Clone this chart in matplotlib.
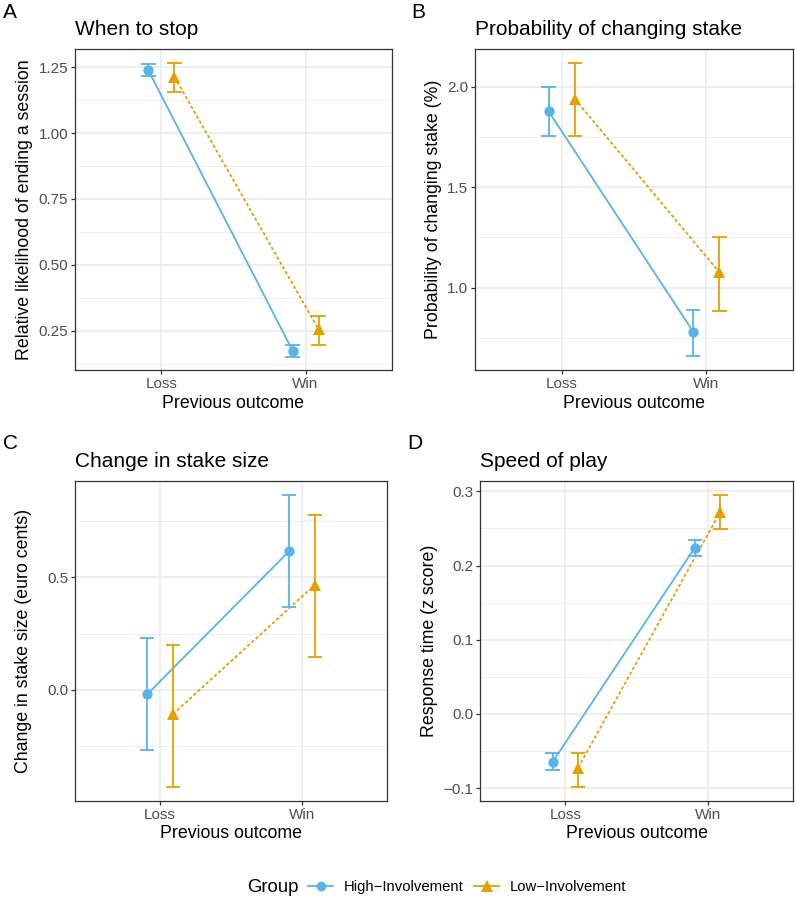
import matplotlib
matplotlib.use("Agg")
import matplotlib.pyplot as plt
from matplotlib.lines import Line2D

plt.rcParams["font.family"] = ["Liberation Sans", "DejaVu Sans"]

W, H = 795, 899

outcomes = ["Loss", "Win"]
groups = ["High\u2212Involvement", "Low\u2212Involvement"]
colors = ["#56B4E9", "#E69F00"]

# panel A: when to stop
stop_high = [1.237, 0.175]
stop_high_lo = [1.217, 0.152]
stop_high_hi = [1.261, 0.198]
stop_low = [1.213, 0.256]
stop_low_lo = [1.156, 0.197]
stop_low_hi = [1.266, 0.306]

# panel B: probability of changing stake
prob_high = [1.877, 0.780]
prob_high_lo = [1.755, 0.660]
prob_high_hi = [2.000, 0.891]
prob_low = [1.940, 1.077]
prob_low_lo = [1.755, 0.885]
prob_low_hi = [2.118, 1.250]

# panel C: change in stake size
size_high = [-0.019, 0.617]
size_high_lo = [-0.269, 0.367]
size_high_hi = [0.231, 0.865]
size_low = [-0.108, 0.466]
size_low_lo = [-0.430, 0.148]
size_low_hi = [0.198, 0.778]

# panel D: speed of play
speed_high = [-0.065, 0.2242]
speed_high_lo = [-0.0762, 0.213]
speed_high_hi = [-0.0534, 0.235]
speed_low = [-0.0726, 0.2726]
speed_low_lo = [-0.0982, 0.2498]
speed_low_hi = [-0.0525, 0.295]

panels = [
    dict(tag="A", title="When to stop", ylabel="Relative likelihood of ending a session",
         box=(75, 49, 392, 370), ylim=(0.1015, 1.3185), yticks=[0.25, 0.5, 0.75, 1.0, 1.25],
         fmt="%.2f", ylab_x=25, tag_xy=(3, 18), title_y=35,
         series=[(stop_high, stop_high_lo, stop_high_hi), (stop_low, stop_low_lo, stop_low_hi)]),
    dict(tag="B", title="Probability of changing stake", ylabel="Probability of changing stake (%)",
         box=(475, 49, 793, 370), ylim=(0.59, 2.188), yticks=[1.0, 1.5, 2.0],
         fmt="%.1f", ylab_x=433, tag_xy=(411, 18), title_y=35,
         series=[(prob_high, prob_high_lo, prob_high_hi), (prob_low, prob_low_lo, prob_low_hi)]),
    dict(tag="C", title="Change in stake size", ylabel="Change in stake size (euro cents)",
         box=(75, 481, 387, 801), ylim=(-0.494, 0.929), yticks=[0.0, 0.5],
         fmt="%.1f", ylab_x=24, tag_xy=(3, 449), title_y=467,
         series=[(size_high, size_high_lo, size_high_hi), (size_low, size_low_lo, size_low_hi)]),
    dict(tag="D", title="Speed of play", ylabel="Response time (z score)",
         box=(480, 481, 793, 801), ylim=(-0.1175, 0.314), yticks=[-0.1, 0.0, 0.1, 0.2, 0.3],
         fmt="%.1f", ylab_x=429, tag_xy=(407, 449), title_y=467,
         series=[(speed_high, speed_high_lo, speed_high_hi), (speed_low, speed_low_lo, speed_low_hi)]),
]

dodge = [-0.09, 0.09]
cap = 0.05
styles = ["-", (0, (1.8, 1.3))]
markers = ["o", "^"]
msizes = [7.4, 9.0]

fig = plt.figure(figsize=(W / 100, H / 100), dpi=100)

for p in panels:
    l, t, r, b = p["box"]
    ax = fig.add_axes([l / W, 1 - b / H, (r - l) / W, (b - t) / H])
    ax.set_xlim(0.4, 2.6)
    ax.set_ylim(*p["ylim"])

    # grid like theme_bw
    yt = p["yticks"]
    step = yt[1] - yt[0]
    minors = [v + step / 2 for v in [yt[0] - step] + yt]
    minors = [m for m in minors if p["ylim"][0] < m < p["ylim"][1]]
    for m in minors:
        ax.axhline(m, color="#EBEBEB", lw=0.6, zorder=0)
    for v in yt:
        ax.axhline(v, color="#EBEBEB", lw=1.2, zorder=0)
    for xv in [1, 2]:
        ax.axvline(xv, color="#EBEBEB", lw=1.2, zorder=0)

    for i, (mean, lo, hi) in enumerate(p["series"]):
        xs = [1 + dodge[i], 2 + dodge[i]]
        ax.plot(xs, mean, color=colors[i], lw=1.3, ls=styles[i], zorder=2)
        ax.vlines(xs, lo, hi, color=colors[i], lw=1.3, zorder=3)
        ax.hlines(lo, [x - cap for x in xs], [x + cap for x in xs], color=colors[i], lw=1.3, zorder=3)
        ax.hlines(hi, [x - cap for x in xs], [x + cap for x in xs], color=colors[i], lw=1.3, zorder=3)
        ax.plot(xs, mean, ls="none", marker=markers[i], ms=msizes[i], color=colors[i],
                markeredgewidth=0, zorder=4)

    ax.set_xticks([1, 2])
    ax.set_xticklabels(outcomes)
    ax.set_yticks(yt)
    ax.set_yticklabels([(p["fmt"] % v).replace("-", "\u2212") for v in yt])
    ax.tick_params(length=3.2, width=0.9, color="#333333", labelcolor="#4D4D4D",
                   labelsize=11, pad=1.6)
    for s in ax.spines.values():
        s.set_color("#333333")
        s.set_linewidth(0.9)

    xc = (l + r) / 2
    fig.text(xc / W, 1 - (b + 33) / H, "Previous outcome", ha="center", va="center", fontsize=12.8)
    fig.text(p["ylab_x"] / W, 1 - ((t + b) / 2) / H, p["ylabel"], rotation=90,
             ha="center", va="center", fontsize=12.8)
    fig.text(l / W, 1 - p["title_y"] / H, p["title"], ha="left", va="baseline", fontsize=15)
    fig.text(p["tag_xy"][0] / W, 1 - p["tag_xy"][1] / H, p["tag"], ha="left", va="baseline",
             fontsize=15)

# legend along the bottom
handles = [Line2D([], [], color=colors[i], lw=1.3, marker=markers[i], ms=msizes[i] * 0.95,
                  markeredgewidth=0) for i in range(2)]
fig.text(247 / W, 1 - 887 / H, "Group", ha="left", va="center", fontsize=13.4)
fig.legend(handles, groups, loc="center left", bbox_to_anchor=(301 / W, 1 - 887 / H),
           ncol=2, frameon=False, fontsize=10.7, borderpad=0, handlelength=1.65,
           handletextpad=0.7, columnspacing=0.75)

fig.savefig("out.png", dpi=100)
